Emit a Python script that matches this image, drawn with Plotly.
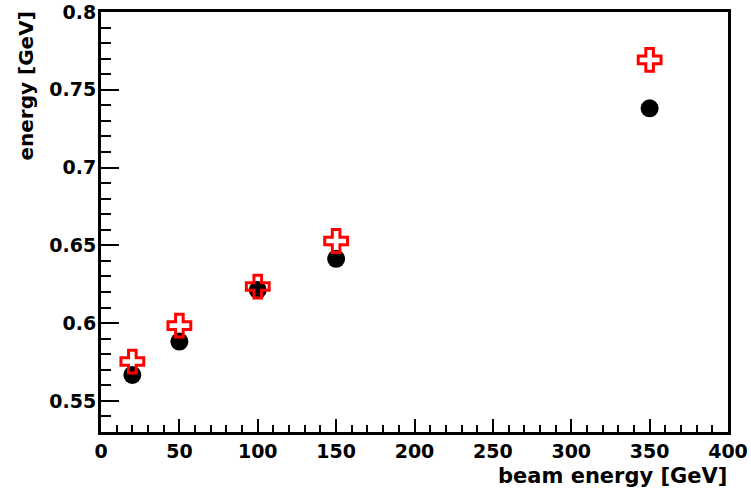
import plotly.graph_objects as go

beam = [20, 50, 100, 150, 350]
black_vals = [0.5667, 0.5881, 0.6213, 0.6413, 0.7381]
red_vals = [0.5753, 0.5984, 0.6235, 0.6528, 0.7692]

x_ticks = [0, 50, 100, 150, 200, 250, 300, 350, 400]
x_text = ["0", "50", "100", "150", "200", "250", "300", "350", "400"]
y_ticks = [0.55, 0.6, 0.65, 0.7, 0.75, 0.8]
y_text = ["0.55", "0.6", "0.65", "0.7", "0.75", "0.8"]

FONT = "DejaVu Sans"

fig = go.Figure()
fig.add_trace(go.Scatter(
    x=beam, y=black_vals, mode="markers",
    marker=dict(symbol="circle", size=18, color="black"),
    showlegend=False))
fig.add_trace(go.Scatter(
    x=beam, y=red_vals, mode="markers",
    marker=dict(symbol="cross-open", size=19, color="red",
                line=dict(color="red", width=3)),
    showlegend=False))

fig.update_layout(
    width=751, height=492,
    margin=dict(l=101, r=23, t=12, b=60, autoexpand=False),
    paper_bgcolor="white", plot_bgcolor="white",
    font=dict(family=FONT, size=20, color="black", weight=700),
    xaxis=dict(
        range=[0, 400], showgrid=False, zeroline=False, automargin=False,
        showline=True, linecolor="black", linewidth=3, mirror=True,
        ticks="inside", ticklen=13, tickwidth=2, tickcolor="black",
        tickvals=x_ticks, ticktext=["<b>%s</b>" % t for t in x_text],
        tickfont=dict(family=FONT, size=19, weight=700),
        ticklabelstandoff=0,
        minor=dict(ticks="inside", ticklen=7, tickwidth=2, tickcolor="black", dtick=10),
    ),
    yaxis=dict(
        range=[0.53, 0.8], showgrid=False, zeroline=False, automargin=False,
        showline=True, linecolor="black", linewidth=3, mirror=True,
        ticks="inside", ticklen=18, tickwidth=2, tickcolor="black",
        tickvals=y_ticks, ticktext=["<b>%s</b>" % t for t in y_text],
        tickfont=dict(family=FONT, size=19, weight=700),
        ticklabelstandoff=-2,
        minor=dict(ticks="inside", ticklen=10, tickwidth=2, tickcolor="black", dtick=0.01),
    ),
    annotations=[
        dict(text="<b>beam energy [GeV]</b>", xref="paper", yref="paper",
             x=1.0, y=0, xanchor="right", yanchor="top", yshift=-30, xshift=1,
             showarrow=False, font=dict(family=FONT, size=21, weight=700)),
        dict(text="<b>energy [GeV]</b>", xref="paper", yref="paper",
             x=0, y=1.0, xanchor="right", yanchor="top", xshift=-62, yshift=2,
             textangle=-90, showarrow=False,
             font=dict(family=FONT, size=20, weight=700)),
    ],
)

fig.write_html("out.html")
